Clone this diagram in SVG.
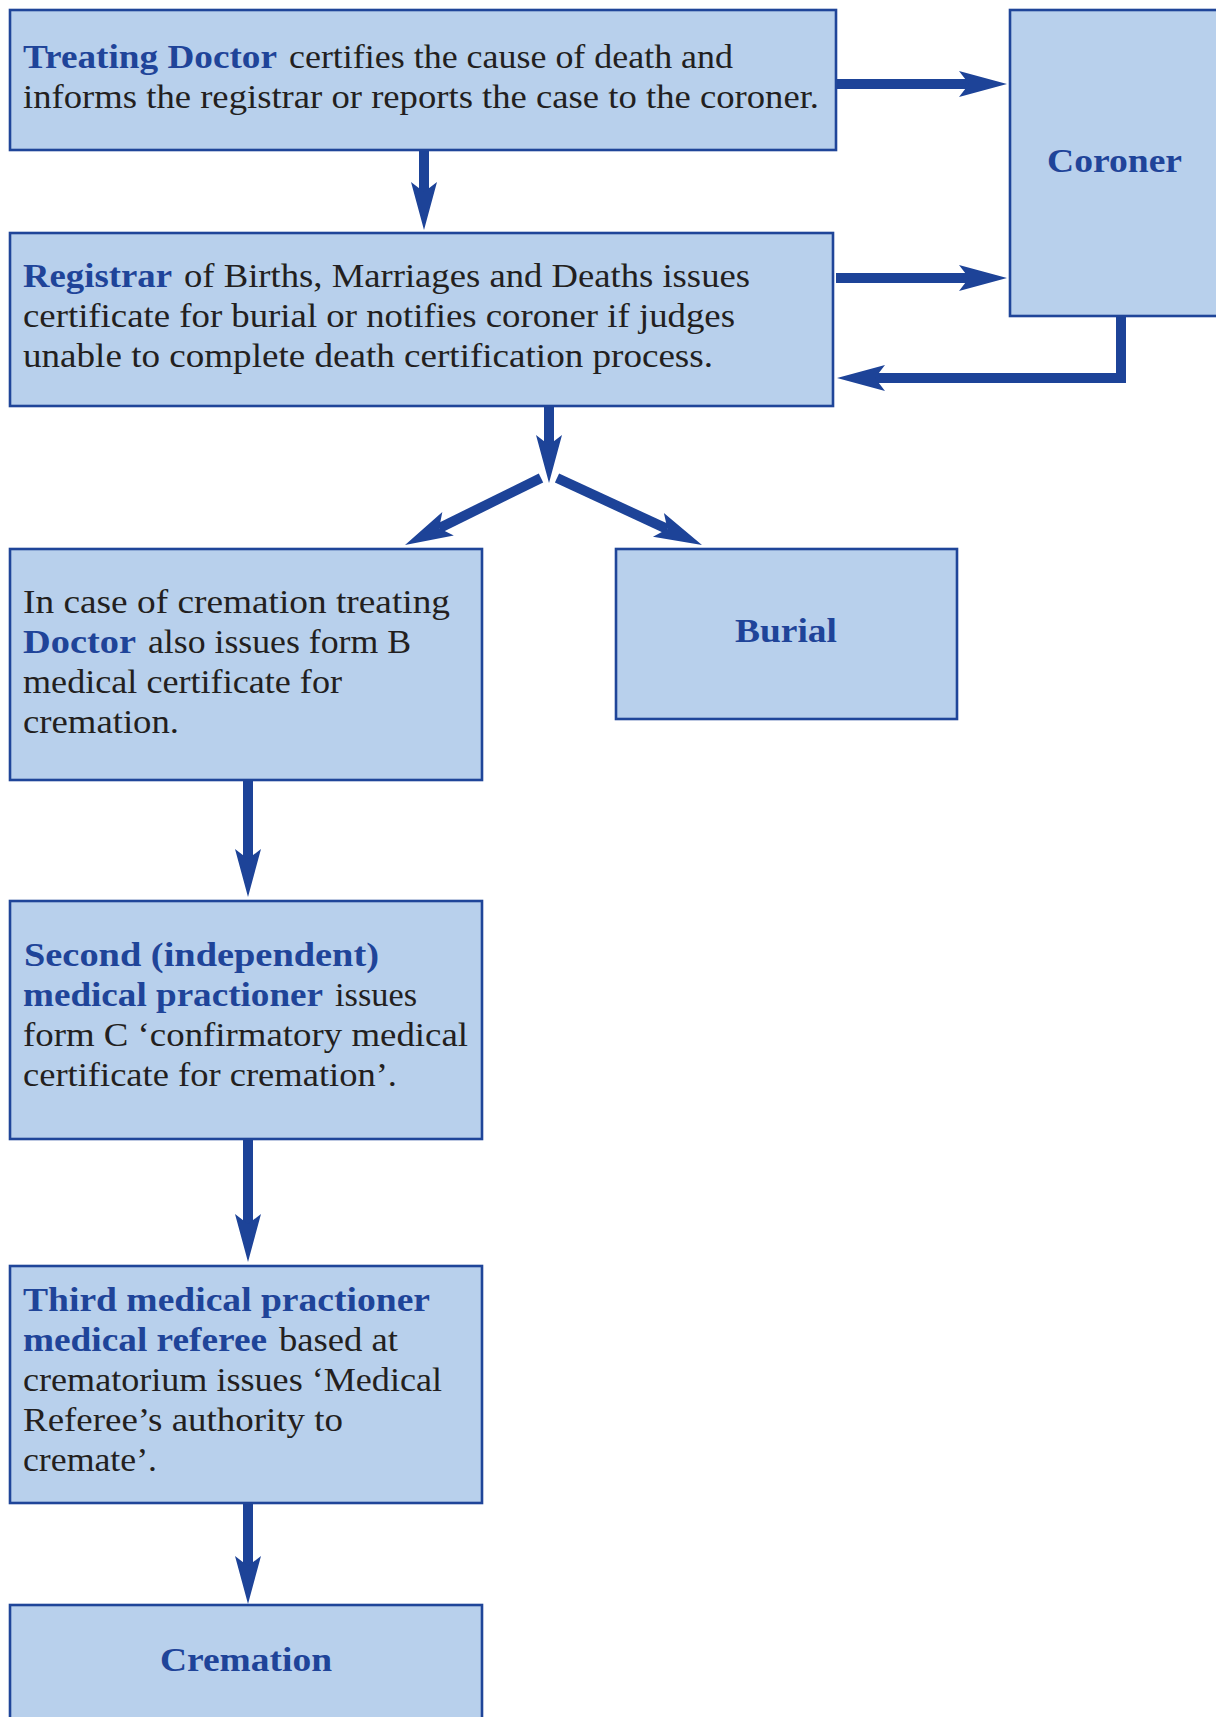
<svg xmlns="http://www.w3.org/2000/svg" width="1216" height="1717" viewBox="0 0 1216 1717">
<style>
.box{fill:#b8d0ec;stroke:#1f4599;stroke-width:2.6}
.t{font-family:"Liberation Serif","Times New Roman",serif;font-size:33px;fill:#231f20}
.b{font-family:"Liberation Serif","Times New Roman",serif;font-size:33px;font-weight:bold;fill:#1f4499}
.c{stroke:#1d4398;stroke-width:10;fill:none}
</style>
<defs>
<marker id="ah" markerUnits="userSpaceOnUse" orient="auto" viewBox="-12 -15 52 30" refX="0" refY="0" markerWidth="52" markerHeight="30">
<path d="M38,0 L-10,-13 L0,0 L-10,13 Z" fill="#1d4398"/>
</marker>
</defs>
<rect width="1216" height="1717" fill="#ffffff"/>

<g id="connectors">
<line class="c" x1="836" y1="84" x2="969" y2="84" marker-end="url(#ah)"/>
<line class="c" x1="836" y1="278" x2="969" y2="278" marker-end="url(#ah)"/>
<polyline class="c" points="1121,316 1121,378 875,378" marker-end="url(#ah)"/>
<line class="c" x1="424" y1="150" x2="424" y2="192" marker-end="url(#ah)"/>
<line class="c" x1="549" y1="406" x2="549" y2="445" marker-end="url(#ah)"/>
<line class="c" x1="541" y1="478" x2="439.1" y2="528.2" marker-end="url(#ah)"/>
<line class="c" x1="557" y1="478" x2="667.5" y2="529.1" marker-end="url(#ah)"/>
<line class="c" x1="248" y1="780" x2="248" y2="859" marker-end="url(#ah)"/>
<line class="c" x1="248" y1="1139" x2="248" y2="1224" marker-end="url(#ah)"/>
<line class="c" x1="248" y1="1503" x2="248" y2="1566" marker-end="url(#ah)"/>
</g>

<g id="treating">
<rect class="box" x="10" y="10" width="826" height="140"/>
<text class="b" x="23" y="68" textLength="254" lengthAdjust="spacingAndGlyphs">Treating Doctor</text>
<text class="t" x="289" y="68" textLength="444" lengthAdjust="spacingAndGlyphs">certifies the cause of death and</text>
<text class="t" x="23" y="108" textLength="796" lengthAdjust="spacingAndGlyphs">informs the registrar or reports the case to the coroner.</text>
</g>

<g id="coroner">
<rect class="box" x="1010" y="10" width="220" height="306"/>
<text class="b" x="1047" y="172" font-size="34" textLength="135" lengthAdjust="spacingAndGlyphs">Coroner</text>
</g>

<g id="registrar">
<rect class="box" x="10" y="233" width="823" height="173"/>
<text class="b" x="23" y="287" textLength="149" lengthAdjust="spacingAndGlyphs">Registrar</text>
<text class="t" x="184" y="287" textLength="566" lengthAdjust="spacingAndGlyphs">of Births, Marriages and Deaths issues</text>
<text class="t" x="23" y="327" textLength="712" lengthAdjust="spacingAndGlyphs">certificate for burial or notifies coroner if judges</text>
<text class="t" x="23" y="367" textLength="690" lengthAdjust="spacingAndGlyphs">unable to complete death certification process.</text>
</g>

<g id="cremation-doctor">
<rect class="box" x="10" y="549" width="472" height="231"/>
<text class="t" x="23" y="613" textLength="427" lengthAdjust="spacingAndGlyphs">In case of cremation treating</text>
<text class="b" x="23" y="653" textLength="113" lengthAdjust="spacingAndGlyphs">Doctor</text>
<text class="t" x="148" y="653" textLength="263" lengthAdjust="spacingAndGlyphs">also issues form B</text>
<text class="t" x="23" y="693" textLength="319" lengthAdjust="spacingAndGlyphs">medical certificate for</text>
<text class="t" x="23" y="733" textLength="156" lengthAdjust="spacingAndGlyphs">cremation.</text>
</g>

<g id="burial">
<rect class="box" x="616" y="549" width="341" height="170"/>
<text class="b" x="735" y="642" font-size="34" textLength="102" lengthAdjust="spacingAndGlyphs">Burial</text>
</g>

<g id="second">
<rect class="box" x="10" y="901" width="472" height="238"/>
<text class="b" x="24" y="966" textLength="355" lengthAdjust="spacingAndGlyphs">Second (independent)</text>
<text class="b" x="23" y="1006" textLength="300" lengthAdjust="spacingAndGlyphs">medical practioner</text>
<text class="t" x="335" y="1006" textLength="82" lengthAdjust="spacingAndGlyphs">issues</text>
<text class="t" x="23" y="1046" textLength="445" lengthAdjust="spacingAndGlyphs">form C ‘confirmatory medical</text>
<text class="t" x="23" y="1086" textLength="374" lengthAdjust="spacingAndGlyphs">certificate for cremation’.</text>
</g>

<g id="third">
<rect class="box" x="10" y="1266" width="472" height="237"/>
<text class="b" x="23" y="1311" textLength="407" lengthAdjust="spacingAndGlyphs">Third medical practioner</text>
<text class="b" x="23" y="1351" textLength="244" lengthAdjust="spacingAndGlyphs">medical referee</text>
<text class="t" x="279" y="1351" textLength="119" lengthAdjust="spacingAndGlyphs">based at</text>
<text class="t" x="23" y="1391" textLength="419" lengthAdjust="spacingAndGlyphs">crematorium issues ‘Medical</text>
<text class="t" x="23" y="1431" textLength="320" lengthAdjust="spacingAndGlyphs">Referee’s authority to</text>
<text class="t" x="23" y="1471" textLength="134" lengthAdjust="spacingAndGlyphs">cremate’.</text>
</g>

<g id="cremation">
<rect class="box" x="10" y="1605" width="472" height="130"/>
<text class="b" x="160" y="1671" font-size="34" textLength="172" lengthAdjust="spacingAndGlyphs">Cremation</text>
</g>
</svg>
